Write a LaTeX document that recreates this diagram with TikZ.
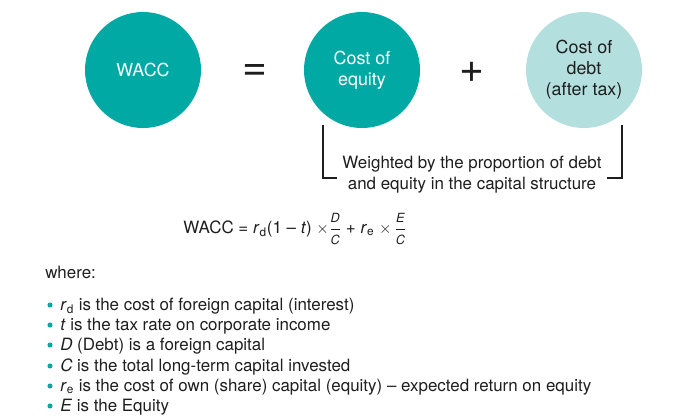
\documentclass[tikz,border=0pt]{standalone}
\usepackage{amsmath}
\usepackage{fontspec}
\setmainfont{TeX Gyre Heros}
\usepackage{tikz}
\usetikzlibrary{positioning}
\definecolor{waccteal}{HTML}{00A9A4}
\definecolor{wacclight}{HTML}{B3E0DE}
\definecolor{wacctext}{HTML}{1E1E1E}

\begin{document}
\begin{tikzpicture}[x=0.75pt,y=-0.75pt,
    bubble/.style={circle,minimum size=87pt,inner sep=0pt,align=center,
      font=\fontsize{13.4}{15.8}\selectfont},
    bodytext/.style={anchor=base west,inner sep=0pt,text=wacctext,
      font=\fontsize{12.7}{15}\selectfont},
    dot/.style={circle,fill=waccteal,inner sep=0pt,minimum size=3.8pt}]
    \useasboundingbox (0,0) rectangle (700,419);
    % top row
    \node[bubble,fill=waccteal,text=white] (wacc) at (143,70) {WACC};
    \node[bubble,fill=waccteal,text=white] (equity) at (362,70) {Cost of\\equity};
    \node[bubble,fill=wacclight,text=wacctext] (debt) at (584,70) {Cost of\\debt\\(after tax)};
    \node[text=wacctext,font=\fontsize{32}{32}\selectfont] (eqsign) at (255,72) {=};
    \node[text=wacctext,font=\fontsize{32}{32}\selectfont] (plus) at (472,72) {+};
    % bracket
    \coordinate (brL) at (323,125);
    \coordinate (brR) at (622,125);
    \draw[wacctext,line width=0.9pt] (brL) -- ++(0,53) -- ++(14,0);
    \draw[wacctext,line width=0.9pt] (brR) -- ++(0,53) -- ++(-15,0);
    \node[text=wacctext,align=center,font=\fontsize{12.7}{15.6}\selectfont] (weight) at (472,175)
      {Weighted by the proportion of debt\\and equity in the capital structure};
    % formula
    \node[text=wacctext,font=\fontsize{12.7}{14}\selectfont] (formula) at (295,229)
      {WACC = \textit{r}\textsubscript{d}(1 – \textit{t}) $\times\dfrac{\text{\fontsize{9.5}{10}\selectfont\itshape D}}{\text{\fontsize{9.5}{10}\selectfont\itshape C}}$
       + \textit{r}\textsubscript{e} $\times\,\dfrac{\text{\fontsize{9.5}{10}\selectfont\itshape E}}{\text{\fontsize{9.5}{10}\selectfont\itshape C}}$};
    % legend
    \node[bodytext] (where) at (45,278) {where:};
    \foreach \y/\txt [count=\i] in {
        310/{\textit{r}\textsubscript{d} is the cost of foreign capital (interest)},
        330/{\textit{t} is the tax rate on corporate income},
        350/{\textit{D} (Debt) is a foreign capital},
        371/{\textit{C} is the total long-term capital invested},
        391/{\textit{r}\textsubscript{e} is the cost of own (share) capital (equity) – expected return on equity},
        411/{\textit{E} is the Equity}} {
      \node[dot] (b\i) at (50,\y-5) {};
      \node[bodytext] (item\i) at (60,\y) {\txt};
    }
\end{tikzpicture}
\end{document}
